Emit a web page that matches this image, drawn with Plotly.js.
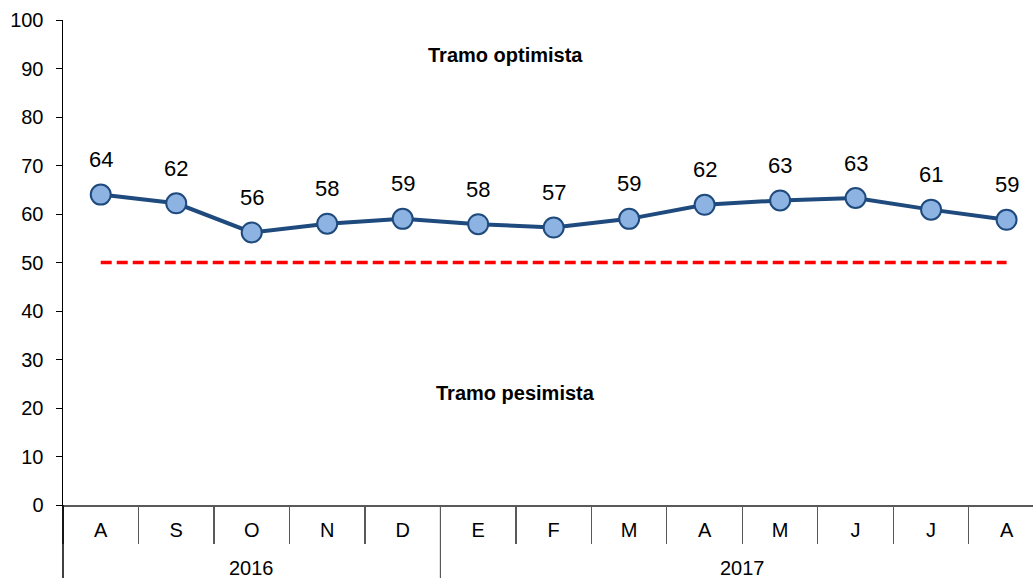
<!DOCTYPE html>
<html>
<head>
<meta charset="utf-8">
<script src="https://cdn.plot.ly/plotly-3.0.1.min.js"></script>
<style>html,body{margin:0;padding:0;background:#fff;}#chart{width:1033px;height:578px;}</style>
</head>
<body>
<div id="chart"></div>
<script>
const months = ['A','S','O','N','D','E','F','M','A','M','J','J','A'];
const years = ['2016','2016','2016','2016','2016','2017','2017','2017','2017','2017','2017','2017','2017'];
const values = [64.0, 62.2, 56.2, 58.0, 59.0, 57.9, 57.2, 59.0, 61.9, 62.8, 63.3, 60.9, 58.8];
const threshold = [50,50,50,50,50,50,50,50,50,50,50,50,50];
const yTicks = [0,10,20,30,40,50,60,70,80,90,100];

const FONT = 'Liberation Sans, Arial, sans-serif';
const idx = months.map((m, i) => i);

// year groups (first/last index of each year)
const groups = [];
years.forEach((y, i) => {
  const g = groups[groups.length - 1];
  if (g && g.year === y) g.last = i; else groups.push({year: y, first: i, last: i});
});

const plotH = 578 - 20 - 73;
const rowBottom = -73 / plotH;

const traces = [
  {
    x: idx, y: threshold, type: 'scatter', mode: 'lines',
    line: {color: '#ff0000', width: 3.5, dash: '11px,5px'},
    hoverinfo: 'skip'
  },
  {
    x: idx, y: values, type: 'scatter', mode: 'lines+markers',
    line: {color: '#1f4a7d', width: 4},
    marker: {size: 20, color: '#8db3e2', line: {color: '#1f4a7d', width: 2}},
    cliponaxis: false
  }
];

const annotations = values.map((v, i) => ({
  x: i, y: v, xref: 'x', yref: 'y', text: String(Math.round(v)),
  showarrow: false, yshift: 35, font: {family: FONT, size: 22, color: '#000'}
}));
groups.forEach(g => {
  annotations.push({
    x: (g.first + g.last) / 2,
    y: rowBottom, xref: 'x', yref: 'paper', yanchor: 'bottom', yshift: -3,
    text: g.year, showarrow: false, font: {family: FONT, size: 20, color: '#000'}
  });
});
annotations.push(
  {xref: 'paper', yref: 'y', x: 0.456, y: 92.8, text: '<b>Tramo optimista</b>', showarrow: false,
   font: {family: FONT, size: 20, color: '#000'}},
  {xref: 'paper', yref: 'y', x: 0.466, y: 23.1, text: '<b>Tramo pesimista</b>', showarrow: false,
   font: {family: FONT, size: 20, color: '#000'}}
);

const shapes = [
  {type: 'line', xref: 'paper', yref: 'paper', x0: 0, x1: 0, y0: rowBottom, y1: 0,
   line: {color: '#000', width: 1.5}}
];
groups.slice(1).forEach(g => {
  shapes.push({type: 'line', xref: 'x', yref: 'paper', x0: g.first - 0.5, x1: g.first - 0.5,
    y0: rowBottom, y1: 0, line: {color: '#595959', width: 1.2}});
});

const layout = {
  width: 1033, height: 578,
  margin: {l: 63, r: 0, t: 20, b: 73},
  paper_bgcolor: '#fff', plot_bgcolor: '#fff',
  showlegend: false,
  font: {family: FONT, size: 20, color: '#000'},
  xaxis: {
    range: [-0.5, 12.35],
    tickmode: 'array', tickvals: idx, ticktext: months,
    showline: true, linecolor: '#595959', linewidth: 1.5,
    ticks: 'outside', ticklen: 6, tickcolor: 'rgba(0,0,0,0)',
    minor: {tickmode: 'linear', tick0: 0.5, dtick: 1, ticks: 'outside', ticklen: 37,
            tickcolor: '#595959', tickwidth: 1.2, showgrid: false},
    showgrid: false, zeroline: false,
    tickfont: {family: FONT, size: 20, color: '#000'}
  },
  yaxis: {
    range: [0, 100], tickmode: 'array', tickvals: yTicks,
    showline: true, linecolor: '#000', linewidth: 1.5,
    ticks: 'outside', ticklen: 6, tickcolor: '#000',
    ticklabelstandoff: 8,
    showgrid: false, zeroline: false,
    tickfont: {family: FONT, size: 20, color: '#000'}
  },
  annotations: annotations,
  shapes: shapes
};

Plotly.newPlot('chart', traces, layout, {displayModeBar: false, staticPlot: true});
</script>
</body>
</html>
